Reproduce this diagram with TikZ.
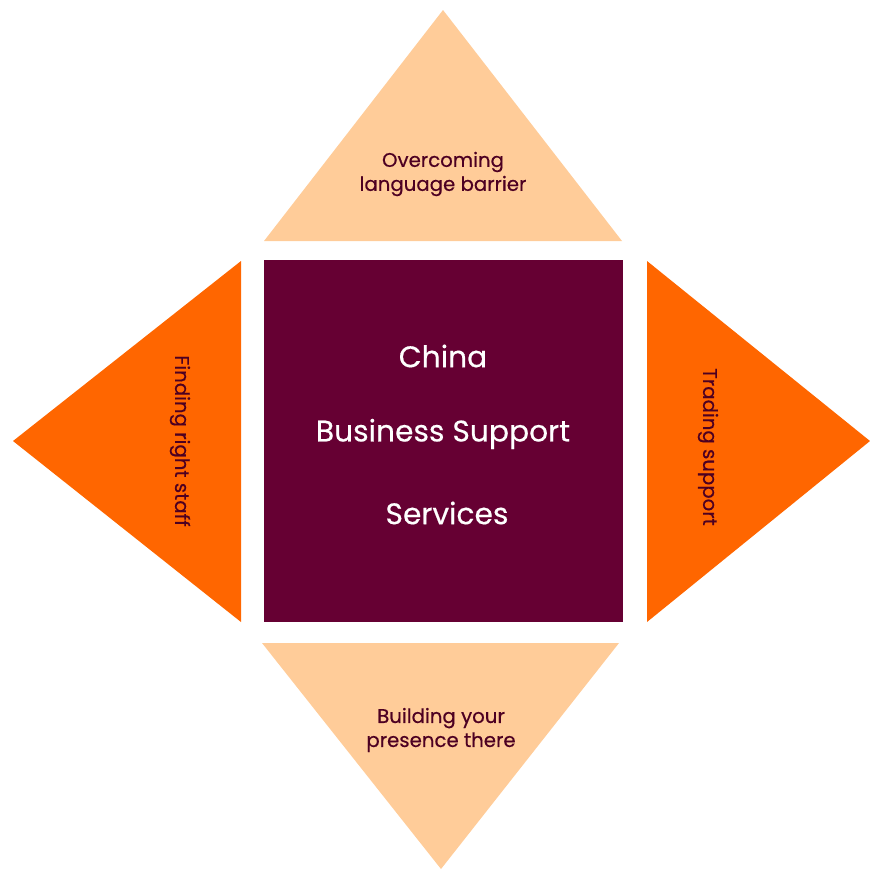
\documentclass[tikz,border=0pt]{standalone}
\usepackage{fontspec}
\setmainfont{Poppins}[BoldFont=Poppins,BoldFeatures={FakeBold=0.4}]
\definecolor{peach}{HTML}{FFCC99}
\definecolor{orng}{HTML}{FF6600}
\definecolor{maroon}{HTML}{660033}
\definecolor{lbl}{HTML}{4D0022}
\begin{document}
\begin{tikzpicture}[x=0.75pt,y=-0.75pt,
  small/.style={text=lbl,font=\fontsize{14.8}{18}\bfseries\selectfont,align=center,inner sep=0pt},
  big/.style={text=white,font=\fontsize{22.3}{24}\bfseries\selectfont,inner sep=0pt}]
\useasboundingbox (0,0) rectangle (870,869);
% shapes
\fill[peach] (443,10) -- (622,241) -- (264,241) -- cycle;
\fill[peach] (262,643) -- (619,643) -- (441,869) -- cycle;
\fill[orng] (13,441) -- (241,261) -- (241,622) -- cycle;
\fill[orng] (647,261) -- (870,441) -- (647,622) -- cycle;
\fill[maroon] (264,260) rectangle (623,622);
% labels
\node[small] (top) at (443,174) {Overcoming\\language barrier};
\node[small] (bot) at (441,730) {Building your\\presence there};
\node[small,rotate=-90] (lft) at (180,441) {Finding right staff};
\node[small,rotate=-90] (rgt) at (708,447) {Trading support};
\node[big] (c1) at (443,356) {China};
\node[big] (c2) at (443,434) {Business Support};
\node[big] (c3) at (447,513) {Services};
\end{tikzpicture}
\end{document}
